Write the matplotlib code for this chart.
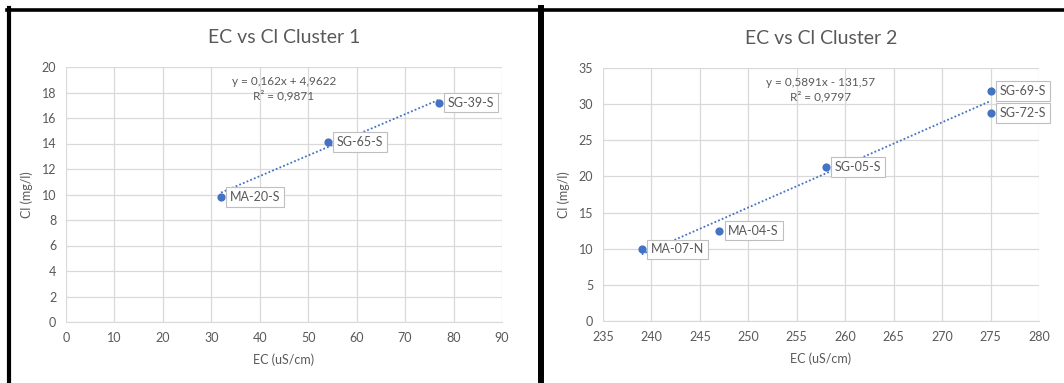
import matplotlib
matplotlib.use("Agg")
import matplotlib.pyplot as plt
from matplotlib.lines import Line2D

plt.rcParams['font.family'] = ['Lato', 'DejaVu Sans']

# Cluster 1
ec1 = [32, 54, 77]
cl1 = [9.8, 14.1, 17.2]
names1 = ['MA-20-S', 'SG-65-S', 'SG-39-S']
fit1 = (0.162, 4.9622)
eq1 = 'y = 0,162x + 4,9622\nR² = 0,9871'

# Cluster 2
ec2 = [239, 247, 258, 275, 275]
cl2 = [9.9, 12.5, 21.3, 31.8, 28.8]
names2 = ['MA-07-N', 'MA-04-S', 'SG-05-S', 'SG-69-S', 'SG-72-S']
fit2 = (0.5891, -131.57)
eq2 = 'y = 0,5891x - 131,57\nR² = 0,9797'

W, H = 1064, 383
blue = '#4472C4'
grey = '#595959'

fig = plt.figure(figsize=(W / 100, H / 100), dpi=100)


def px_axes(x0, y0, x1, y1):
    return fig.add_axes([x0 / W, (H - y1) / H, (x1 - x0) / W, (y1 - y0) / H])


def draw(ax, ec, cl, names, fit, eq, title, xlim, xticks, ylim, yticks):
    ax.set_xlim(*xlim)
    ax.set_ylim(*ylim)
    ax.set_xticks(xticks)
    ax.set_yticks(yticks)
    ax.grid(True, color='#d9d9d9', lw=0.9)
    ax.set_axisbelow(True)
    for s in ['top', 'right', 'left']:
        ax.spines[s].set_visible(False)
    ax.spines['bottom'].set_color('#d9d9d9')
    ax.tick_params(length=0, labelsize=9, colors=grey, pad=7)

    m, b = fit
    xs = [min(ec), max(ec)]
    ax.plot(xs, [m * x + b for x in xs], color=blue, lw=1.3, ls=(0, (1, 1.2)), zorder=2)
    ax.scatter(ec, cl, s=24, color=blue, zorder=3)
    for x, y, n in zip(ec, cl, names):
        ax.annotate(n, (x, y), xytext=(9, 0), textcoords='offset pixels',
                    va='center', ha='left', fontsize=9, color=grey,
                    bbox=dict(boxstyle='square,pad=0.3', fc='white', ec='#bfbfbf', lw=0.8),
                    zorder=4)
    ax.text(0.5, 0.965, eq, transform=ax.transAxes, ha='center', va='top',
            fontsize=8.5, color=grey, linespacing=1.3)
    ax.set_title(title, fontsize=14, color=grey, pad=17)
    ax.set_xlabel('EC (uS/cm)', fontsize=9, color=grey, labelpad=7)
    ax.set_ylabel('Cl (mg/l)', fontsize=9, color=grey, labelpad=6)


ax1 = px_axes(66, 67, 502, 322)
draw(ax1, ec1, cl1, names1, fit1, eq1, 'EC vs Cl Cluster 1',
     (0, 90), range(0, 91, 10), (0, 20), range(0, 21, 2))

ax2 = px_axes(603, 68, 1039, 321)
draw(ax2, ec2, cl2, names2, fit2, eq2, 'EC vs Cl Cluster 2',
     (235, 280), range(235, 281, 5), (0, 35), range(0, 36, 5))

# black frame lines of the screenshot
fig.add_artist(Line2D([7 / W, 1], [1 - 9.5 / H, 1 - 9.5 / H], color='black', lw=2.6))
fig.add_artist(Line2D([9 / W, 9 / W], [0, 1 - 8 / H], color='black', lw=3))
fig.add_artist(Line2D([541 / W, 541 / W], [0, 1 - 8 / H], color='black', lw=4.3))

fig.savefig('out.png', dpi=100)
